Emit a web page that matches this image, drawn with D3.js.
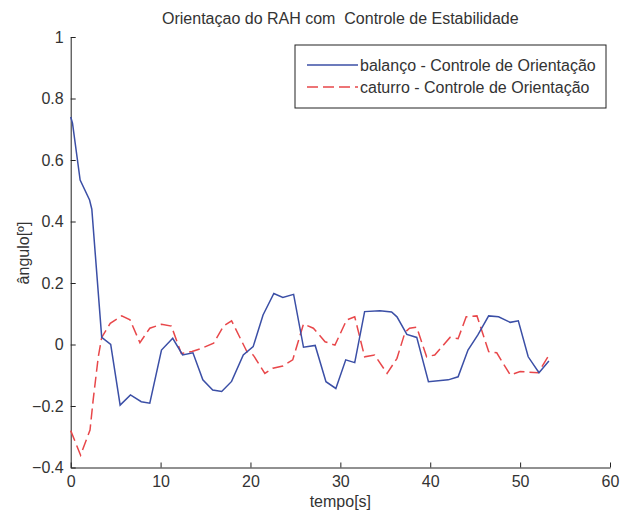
<!DOCTYPE html>
<html>
<head>
<meta charset="utf-8">
<script src="https://cdn.jsdelivr.net/npm/d3@7"></script>
<style>
  body { margin: 0; background: #fff; }
  text { font-family: "Liberation Sans", Arial, sans-serif; }
</style>
</head>
<body>
<div id="vis"></div>
<script>
// balanço (blue, solid)
const timeBal = [0, 0.2, 1.05, 2.1, 2.35, 3.45, 4.45, 5.5, 6.65, 7.85, 8.8, 10.1, 11.35, 12.45, 13.6,
  14.7, 15.8, 16.8, 17.9, 19.2, 20.3, 21.4, 22.6, 23.6, 24.8, 25.9, 27.2, 28.4, 29.5, 30.6, 31.6,
  32.7, 34.4, 35.7, 36.3, 37.4, 38.5, 39.8, 42.0, 43.1, 44.2, 45.3, 46.5, 47.6, 48.9, 49.8, 50.9, 52.1, 53.2];
const balanco = [0.74, 0.72, 0.535, 0.47, 0.44, 0.023, 0.0, -0.197, -0.164, -0.186, -0.191, -0.018, 0.02, -0.034, -0.027,
  -0.115, -0.148, -0.153, -0.12, -0.034, -0.007, 0.096, 0.166, 0.153, 0.163, -0.009, -0.003, -0.121, -0.143, -0.05, -0.059,
  0.107, 0.11, 0.106, 0.09, 0.033, 0.023, -0.121, -0.115, -0.105, -0.018, 0.031, 0.093, 0.09, 0.072, 0.077, -0.04, -0.092, -0.054];

// caturro (red, dashed)
const timeCat = [0, 1.1, 2.15, 2.5, 3.07, 3.45, 4.4, 5.67, 6.6, 7.7, 8.8, 10.1, 11.2, 12.3, 13.5, 14.6, 15.9, 17.0, 17.9,
  19.6, 20.3, 21.6, 22.5, 23.6, 24.7, 25.9, 27.0, 28.3, 29.4, 30.7, 31.6, 32.7, 33.8, 35.2, 36.3, 37.2, 37.7, 38.5,
  39.6, 40.5, 42.2, 43.1, 44.0, 45.2, 46.5, 47.4, 48.9, 50.0, 52.0, 53.1];
const caturro = [-0.28, -0.36, -0.278, -0.18, -0.04, 0.023, 0.069, 0.093, 0.08, 0.006, 0.053, 0.066, 0.06, -0.029, -0.023, -0.012, 0.004, 0.06, 0.077,
  -0.023, -0.034, -0.094, -0.077, -0.07, -0.05, 0.067, 0.053, 0.009, -0.002, 0.08, 0.09, -0.04, -0.034, -0.094, -0.045, 0.04, 0.053, 0.056,
  -0.04, -0.034, 0.023, 0.019, 0.09, 0.093, -0.023, -0.027, -0.099, -0.088, -0.092, -0.04];

const xTicks = [0, 10, 20, 30, 40, 50, 60];
const yTicks = [-0.4, -0.2, 0, 0.2, 0.4, 0.6, 0.8, 1];
const seriesNames = ["balanço - Controle de Orientação", "caturro - Controle de Orientação"];

const width = 624;
const height = 514;
const margin = {left: 70.7, right: 14, top: 37, bottom: 46.5};
const fontSize = 16;
const textColor = "#333";

const svg = d3.select("#vis")
        .append("svg")
        .attr("width", width)
        .attr("height", height);

const xScale = d3.scaleLinear()
        .domain([0, 60])
        .range([margin.left, width - margin.right]);

const yScale = d3.scaleLinear()
        .domain([-0.4, 1])
        .range([height - margin.bottom, margin.top]);

// axes, ticks pointing inward like matlab
let xAxis = d3.axisBottom(xScale)
        .tickValues(xTicks)
        .tickFormat(d3.format("d"))
        .tickSizeInner(-5)
        .tickSizeOuter(0)
        .tickPadding(8);

let yAxis = d3.axisLeft(yScale)
        .tickValues(yTicks)
        .tickFormat(d => d === 0 ? "0" : d === 1 ? "1" : d3.format(".1f")(d))
        .tickSizeInner(-5)
        .tickSizeOuter(0)
        .tickPadding(7);

function styleAxis(g) {
  g.select(".domain").attr("stroke", "#222");
  g.selectAll("line").attr("stroke", "#222");
  g.selectAll("text")
          .attr("font-size", fontSize)
          .attr("fill", textColor)
          .style("font-family", "Liberation Sans, Arial, sans-serif");
}

svg.append("g")
        .attr("transform", "translate(0," + yScale(-0.4) + ")")
        .call(xAxis)
        .call(styleAxis);

svg.append("g")
        .attr("transform", "translate(" + xScale(0) + ",0)")
        .call(yAxis)
        .call(styleAxis);

// lines
const line = d3.line()
        .x(d => xScale(d[0]))
        .y(d => yScale(d[1]));

svg.append("path")
        .datum(d3.zip(timeCat, caturro))
        .attr("d", line)
        .attr("fill", "none")
        .attr("stroke", "#e8474a")
        .attr("stroke-width", 1.5)
        .attr("stroke-dasharray", "11,5");

svg.append("path")
        .datum(d3.zip(timeBal, balanco))
        .attr("d", line)
        .attr("fill", "none")
        .attr("stroke", "#3b4fa6")
        .attr("stroke-width", 1.5);

// title and labels
const midX = (xScale(0) + xScale(60)) / 2;

svg.append("text")
        .attr("x", midX)
        .attr("y", 24)
        .attr("text-anchor", "middle")
        .attr("font-size", fontSize)
        .attr("fill", textColor)
        .style("white-space", "pre")
        .text("Orientaçao do RAH com  Controle de Estabilidade");

svg.append("text")
        .attr("x", midX)
        .attr("y", 507)
        .attr("text-anchor", "middle")
        .attr("font-size", fontSize)
        .attr("fill", textColor)
        .text("tempo[s]");

svg.append("text")
        .attr("transform", "translate(29," + 253 + ") rotate(-90)")
        .attr("text-anchor", "middle")
        .attr("font-size", fontSize)
        .attr("fill", textColor)
        .text("ângulo[º]");

// legend
const legend = svg.append("g").attr("transform", "translate(295,45)");

legend.append("rect")
        .attr("width", 311)
        .attr("height", 63)
        .attr("fill", "#fff")
        .attr("stroke", "#222");

const legendColors = ["#3b4fa6", "#e8474a"];
const legendDash = [null, "11,5"];

seriesNames.forEach((name, i) => {
  let ly = 20 + i * 22;
  legend.append("line")
          .attr("x1", 12)
          .attr("x2", 63)
          .attr("y1", ly)
          .attr("y2", ly)
          .attr("stroke", legendColors[i])
          .attr("stroke-width", 1.5)
          .attr("stroke-dasharray", legendDash[i]);
  legend.append("text")
          .attr("x", 65)
          .attr("y", ly + 5.5)
          .attr("font-size", fontSize)
          .attr("fill", textColor)
          .text(name);
});
</script>
</body>
</html>
